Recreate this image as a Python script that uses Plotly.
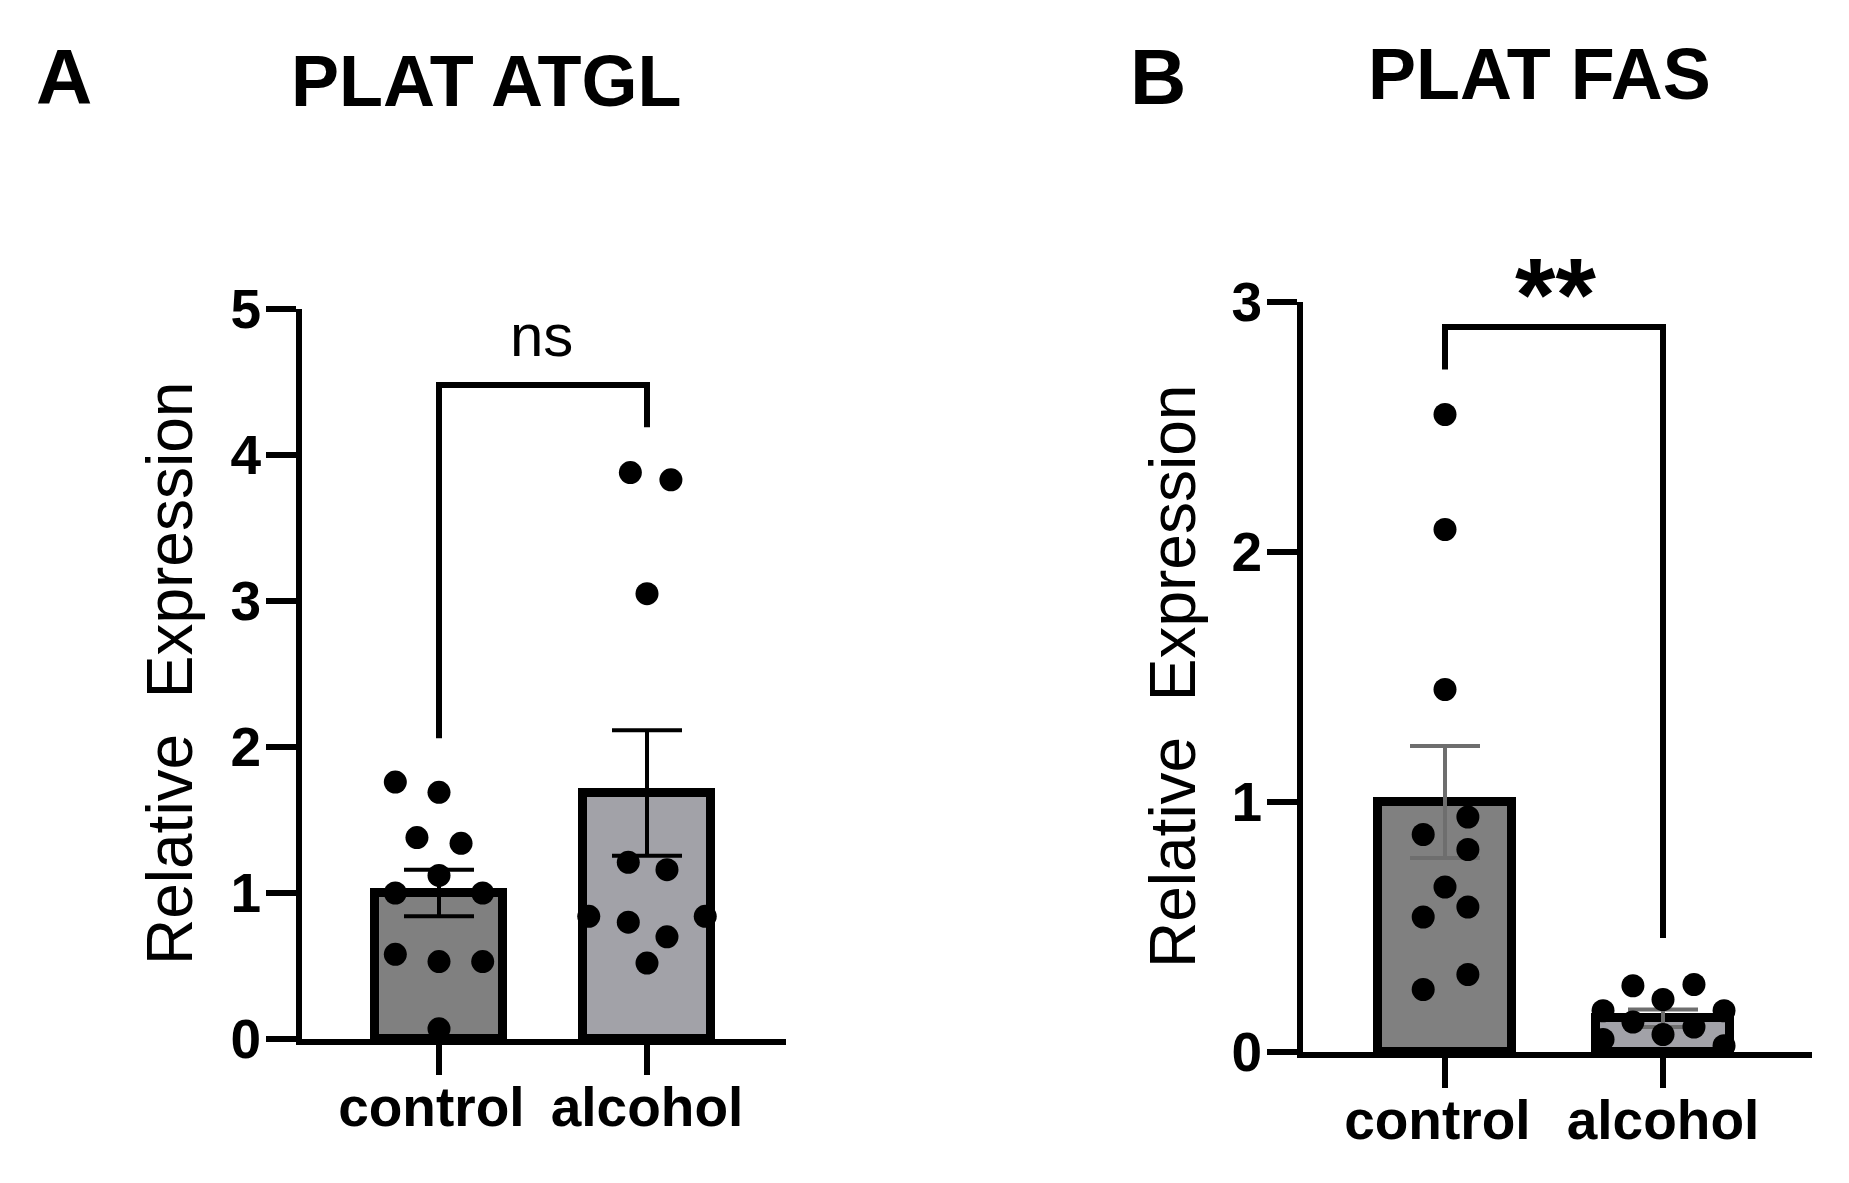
import plotly.graph_objects as go

# ---------------- data ----------------
categories = ["control\u00a0", "alcohol"]

# Panel A: PLAT ATGL
atgl_means = [1.0, 1.685]
atgl_sem = [0.16, 0.43]
atgl_control = [1.76, 1.69, 1.38, 1.34, 1.12, 1.0, 1.0, 0.58, 0.53, 0.53, 0.07]
atgl_control_jitter = [-0.21, 0.0, -0.106, 0.106, 0.0, -0.21, 0.21, -0.21, 0.0, 0.21, 0.0]
atgl_alcohol = [3.88, 3.83, 3.05, 1.21, 1.16, 0.84, 0.80, 0.84, 0.70, 0.52]
atgl_alcohol_jitter = [-0.08, 0.115, 0.0, -0.09, 0.096, -0.28, -0.09, 0.28, 0.096, 0.0]
atgl_bracket = [2.06, 4.48, 4.19]   # left leg bottom, top, right leg bottom
atgl_sig = "ns"

# Panel B: PLAT FAS
fas_means = [1.0, 0.135]
fas_sem = [0.224, 0.035]
fas_control = [2.55, 2.09, 1.45, 0.94, 0.87, 0.81, 0.66, 0.58, 0.54, 0.31, 0.25]
fas_control_jitter = [0.0, 0.0, 0.0, 0.105, -0.10, 0.105, 0.0, 0.105, -0.10, 0.105, -0.10]
fas_alcohol = [0.265, 0.27, 0.21, 0.165, 0.165, 0.12, 0.10, 0.07, 0.05, 0.025]
fas_alcohol_jitter = [-0.138, 0.142, 0.0, -0.275, 0.28, -0.138, 0.142, 0.0, -0.275, 0.28]
fas_bracket = [2.73, 2.90, 0.456]
fas_sig = "**"

bar_colors = ["#808080", "#a2a2a8"]
FONT = "Liberation Sans, Arial, sans-serif"

W, H = 1849, 1183
OFF = 8  # page offset of the plot inside the browser


def px(X):
    return (X - OFF) / W


def py(Y):
    return 1 - (Y - OFF) / H


fig = go.Figure()


def add_panel(xa, ya, means, sem, ctrl, ctrl_j, alc, alc_j, err_color):
    fig.add_trace(go.Bar(
        x=[0, 1], y=means, width=0.615,
        marker=dict(color=bar_colors, line=dict(color="black", width=9)),
        error_y=dict(type="data", array=sem, visible=True, color=err_color,
                     thickness=4, width=35),
        xaxis=xa, yaxis=ya, showlegend=False, hoverinfo="skip"))
    xs = [0 + j for j in ctrl_j] + [1 + j for j in alc_j]
    ys = list(ctrl) + list(alc)
    fig.add_trace(go.Scatter(
        x=xs, y=ys, mode="markers", cliponaxis=False,
        marker=dict(color="black", size=23, line=dict(width=0)),
        xaxis=xa, yaxis=ya, showlegend=False, hoverinfo="skip"))


add_panel("x", "y", atgl_means, atgl_sem, atgl_control, atgl_control_jitter,
          atgl_alcohol, atgl_alcohol_jitter, "black")
add_panel("x2", "y2", fas_means, fas_sem, fas_control, fas_control_jitter,
          fas_alcohol, fas_alcohol_jitter, "#6e6e6e")

axis_common = dict(showline=True, linecolor="black", linewidth=6,
                   ticks="outside", ticklen=30, tickwidth=6, tickcolor="black",
                   showgrid=False, zeroline=False, fixedrange=True, automargin=False)

xcommon = dict(axis_common, tickvals=[0, 1], ticktext=categories,
               tickfont=dict(family=FONT, size=55, color="black", weight="bold"),
               ticklabelstandoff=-15)
ycommon = dict(axis_common,
               tickfont=dict(family=FONT, size=55, color="black", weight="bold"),
               ticklabelstandoff=-6)

# panel geometry (pixels)
A_x0, A_x1, A_y0, A_y1 = 302, 786, 1039, 309
B_x0, B_x1, B_y0, B_y1 = 1303, 1812, 1052, 302
A_cat0, A_cat1 = 439, 647
B_cat0, B_cat1 = 1445, 1663


def xrange_for(x0, x1, c0, c1):
    s = c1 - c0
    return [(x0 - c0) / s, (x1 - c0) / s]


fig.update_layout(
    template="none",
    width=W, height=H, autosize=False,
    margin=dict(l=0, r=0, t=0, b=0, pad=0),
    paper_bgcolor="white", plot_bgcolor="white",
    bargap=0,
    xaxis=dict(xcommon, domain=[px(A_x0), px(A_x1)],
               range=xrange_for(A_x0, A_x1, A_cat0, A_cat1), anchor="y"),
    yaxis=dict(ycommon, domain=[py(A_y0), py(A_y1)], range=[0, 5], dtick=1, anchor="x"),
    xaxis2=dict(xcommon, domain=[px(B_x0), px(B_x1)],
                range=xrange_for(B_x0, B_x1, B_cat0, B_cat1), anchor="y2"),
    yaxis2=dict(ycommon, domain=[py(B_y0), py(B_y1)], range=[0, 3], dtick=1, anchor="x2"),
)


def bracket(xr, yr, b):
    path = f"M 0 {b[0]} L 0 {b[1]} L 1 {b[1]} L 1 {b[2]}"
    fig.add_shape(type="path", path=path, xref=xr, yref=yr,
                  line=dict(color="black", width=6))


bracket("x", "y", atgl_bracket)
bracket("x2", "y2", fas_bracket)


def label(text, x, y, size, bold=True, xref="paper", yref="paper", angle=0):
    f = dict(family=FONT, size=size, color="black")
    if bold:
        f["weight"] = "bold"
    return dict(text=text, x=x, y=y, xref=xref, yref=yref, showarrow=False,
                xanchor="center", yanchor="middle", textangle=angle, font=f)


ann = [
    label(atgl_sig, 0.495, 4.82, 60, bold=False, xref="x", yref="y"),
    label(fas_sig, 0.505, py(295), 104, xref="x2", yref="paper"),
    label("A", px(64), py(77), 78),
    label("PLAT ATGL", px(486), py(81), 72),
    label("B", px(1158), py(77), 78),
    label("PLAT FAS", px(1539), py(74), 72),
    label("Relative  Expression", px(170), py(674), 64, bold=False, angle=-90),
    label("Relative  Expression", px(1173), py(677), 64, bold=False, angle=-90),
]
fig.update_layout(annotations=ann)

fig.write_html("out.html")
